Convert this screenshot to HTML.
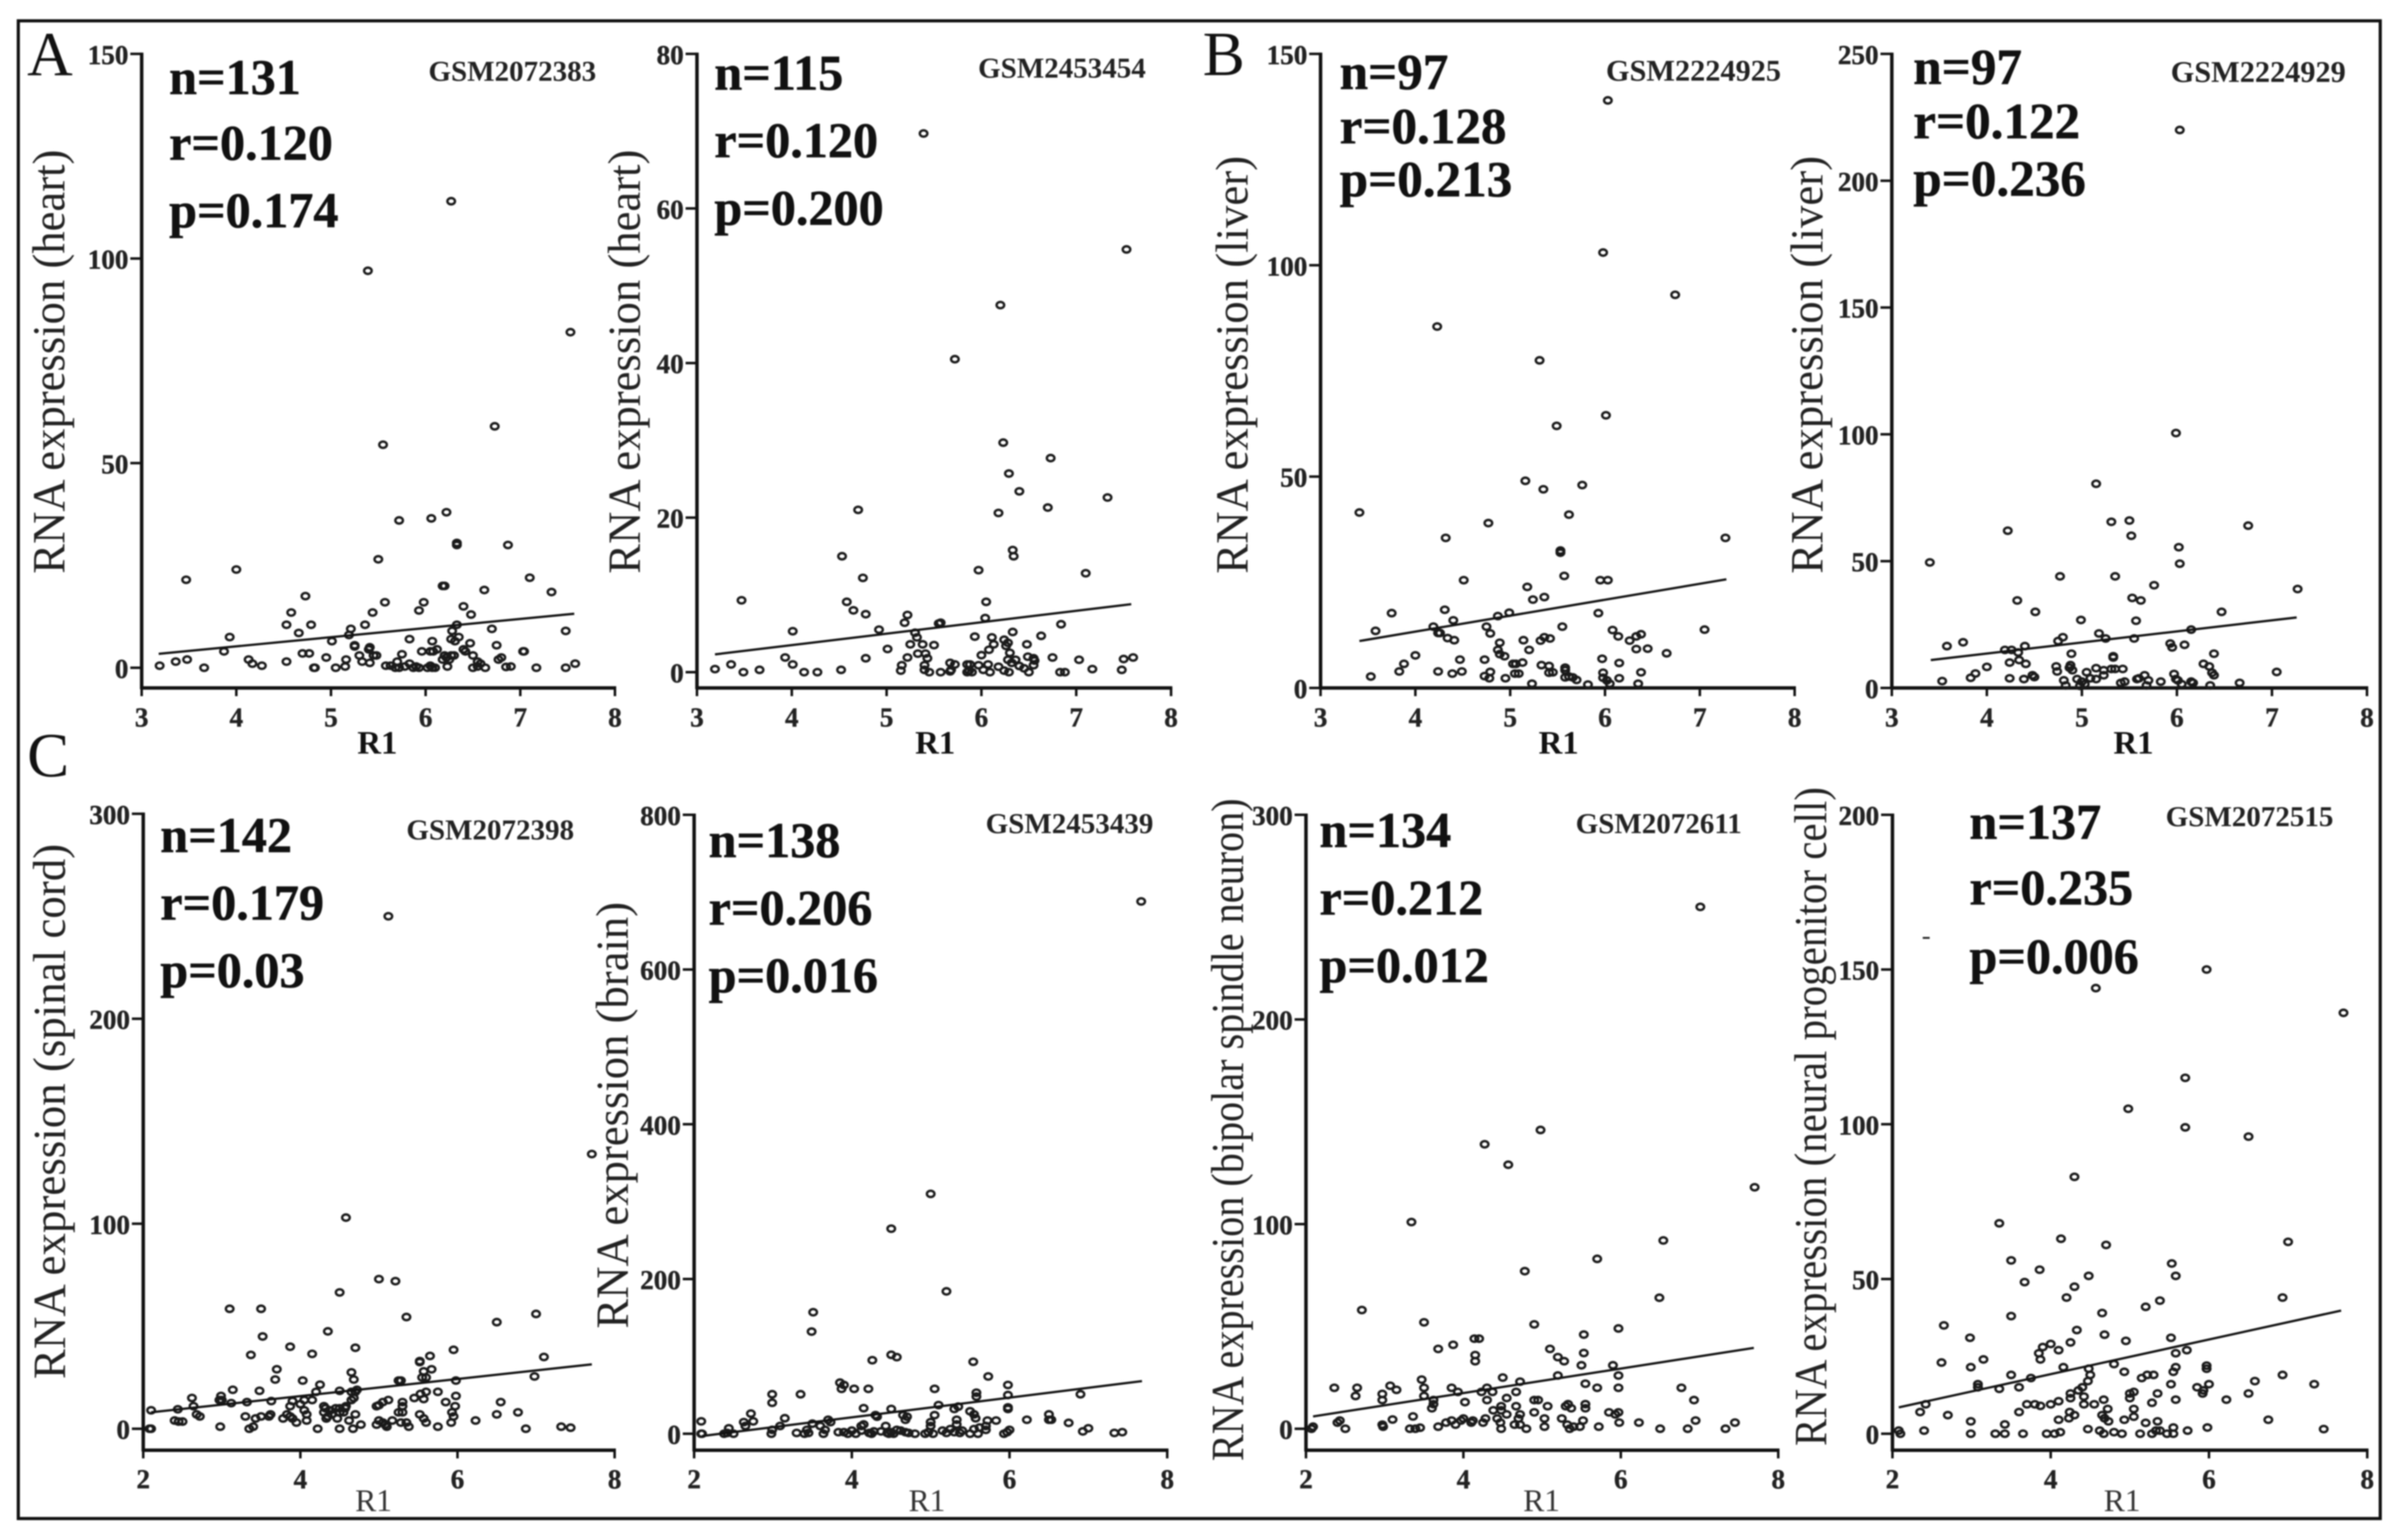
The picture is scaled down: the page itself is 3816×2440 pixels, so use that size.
<!DOCTYPE html>
<html lang="en">
<head>
<meta charset="utf-8">
<title>RNA expression versus R1 scatter panels</title>
<style>
html,body{margin:0;padding:0;background:#fff;width:3816px;height:2440px;overflow:hidden}
svg{display:block;filter:blur(1px)}
text{font-family:"Liberation Serif",serif;fill:#111}
.stat{font-size:79.5px;font-weight:700;stroke:#111;stroke-width:.8px}
.statb{font-size:81px}
.gsm{font-size:46px;font-weight:700;fill:#222}
.gsmb{font-size:48px}
.letter{font-size:100px}
.ytitle{font-size:73px;fill:#222}
.tick{font-size:43px;font-weight:700;fill:#222;stroke:#222;stroke-width:.6px}
.xb{font-size:52px;font-weight:700}
.xr{font-size:50px;fill:#333}
</style>
</head>
<body>
<svg id="figure" width="3816" height="2440" viewBox="0 0 3816 2440" xmlns="http://www.w3.org/2000/svg">
<rect x="29" y="33" width="3743" height="2373" fill="#fff" stroke="#111" stroke-width="5"/>
<text class="letter" x="43" y="119">A</text>
<text class="letter" x="1906" y="119">B</text>
<text class="letter" x="43" y="1230">C</text>

<text class="stat" x="268" y="149">n=131</text>
<text class="stat" x="268" y="253">r=0.120</text>
<text class="stat" x="268" y="360">p=0.174</text>
<text class="gsm" x="679" y="128">GSM2072383</text>
<text class="ytitle" transform="translate(102,909) rotate(-90)" textLength="672" lengthAdjust="spacingAndGlyphs">RNA expression (heart)</text>
<text class="xb" x="598" y="1194" text-anchor="middle">R1</text>

<text class="stat" x="1132" y="142">n=115</text>
<text class="stat" x="1132" y="249">r=0.120</text>
<text class="stat" x="1132" y="356">p=0.200</text>
<text class="gsm" x="1550" y="123">GSM2453454</text>
<text class="ytitle" transform="translate(1014,909) rotate(-90)" textLength="672" lengthAdjust="spacingAndGlyphs">RNA expression (heart)</text>
<text class="xb" x="1482" y="1194" text-anchor="middle">R1</text>

<text class="stat statb" x="2123" y="141">n=97</text>
<text class="stat statb" x="2123" y="227">r=0.128</text>
<text class="stat statb" x="2123" y="311">p=0.213</text>
<text class="gsm gsmb" x="2545" y="128">GSM2224925</text>
<text class="ytitle" transform="translate(1977,909) rotate(-90)" textLength="662" lengthAdjust="spacingAndGlyphs">RNA expression (liver)</text>
<text class="xb" x="2470" y="1194" text-anchor="middle">R1</text>

<text class="stat statb" x="3032" y="133">n=97</text>
<text class="stat statb" x="3032" y="219">r=0.122</text>
<text class="stat statb" x="3032" y="310">p=0.236</text>
<text class="gsm gsmb" x="3440" y="130">GSM2224929</text>
<text class="ytitle" transform="translate(2888,909) rotate(-90)" textLength="662" lengthAdjust="spacingAndGlyphs">RNA expression (liver)</text>
<text class="xb" x="3381" y="1194" text-anchor="middle">R1</text>

<text class="stat" x="254" y="1350">n=142</text>
<text class="stat" x="254" y="1457">r=0.179</text>
<text class="stat" x="254" y="1564">p=0.03</text>
<text class="gsm" x="644" y="1330">GSM2072398</text>
<text class="ytitle" transform="translate(103,2185) rotate(-90)" textLength="848" lengthAdjust="spacingAndGlyphs">RNA expression (spinal cord)</text>
<text class="xr" x="592" y="2394" text-anchor="middle">R1</text>

<text class="stat" x="1123" y="1358">n=138</text>
<text class="stat" x="1123" y="1465">r=0.206</text>
<text class="stat" x="1123" y="1572">p=0.016</text>
<text class="gsm" x="1562" y="1320">GSM2453439</text>
<text class="ytitle" transform="translate(995,2105) rotate(-90)" textLength="676" lengthAdjust="spacingAndGlyphs">RNA expression (brain)</text>
<text class="xr" x="1469" y="2394" text-anchor="middle">R1</text>

<text class="stat" x="2091" y="1342">n=134</text>
<text class="stat" x="2091" y="1449">r=0.212</text>
<text class="stat" x="2091" y="1556">p=0.012</text>
<text class="gsm" x="2497" y="1320">GSM2072611</text>
<text class="ytitle" transform="translate(1970,2315) rotate(-90)" textLength="1050" lengthAdjust="spacingAndGlyphs">RNA expression (bipolar spindle neuron)</text>
<text class="xr" x="2443" y="2394" text-anchor="middle">R1</text>

<text class="stat" x="3121" y="1329">n=137</text>
<text class="stat" x="3121" y="1433">r=0.235</text>
<text class="stat" x="3121" y="1542">p=0.006</text>
<text class="gsm" x="3432" y="1309">GSM2072515</text>
<text class="ytitle" transform="translate(2894,2291) rotate(-90)" textLength="1044" lengthAdjust="spacingAndGlyphs">RNA expression (neural progenitor cell)</text>
<text class="xr" x="3363" y="2394" text-anchor="middle">R1</text>

<line x1="3047" y1="1486" x2="3058" y2="1486" stroke="#222" stroke-width="3"/>
</svg>
<script>
const xTicksUpper = [3,4,5,6,7,8];
const xTicksLower = [2,4,6,8];
const a1YTicks = [0,50,100,150];
const a2YTicks = [0,20,40,60,80];
const b1YTicks = [0,50,100,150];
const b2YTicks = [0,50,100,150,200,250];
const c1YTicks = [0,100,200,300];
const c2YTicks = [0,200,400,600,800];
const c3YTicks = [0,100,200,300];
const c4YTicks = [0,50,100,150,200];

const a1Fit = [[3.18,3.4],[7.57,13.2]];
const a2Fit = [[3.19,2.3],[7.58,8.8]];
const b1Fit = [[3.41,11.1],[7.28,25.7]];
const b2Fit = [[3.41,11],[7.26,27.8]];
const c1Fit = [[2.1,8],[7.71,31.4]];
const c2Fit = [[2.1,-3],[7.68,68]];
const c3Fit = [[2.09,6],[7.69,39.5]];
const c4Fit = [[2.08,8.5],[7.67,39.8]];

const a1Points = [[6.27,114],[5.39,97],[7.53,82],[6.73,59],[5.55,54.5],[5.72,36],[6.06,36.5],[6.22,38],[6.33,30.5],[6.33,30],[6.87,30],[5.5,26.5],[7.1,22],[4.0,24],[3.47,21.5],[6.18,20],[6.2,20],[4.73,17.5],[6.62,19],[7.33,18.5],[5.57,16],[5.98,16],[4.58,13.5],[5.44,13.5],[5.93,14],[6.4,15],[6.48,13],[4.53,10.5],[4.79,10.5],[5.36,10.5],[4.66,8.5],[5.21,9.5],[5.19,8],[3.93,7.5],[5.01,6.5],[5.83,7],[6.28,9],[6.33,10.5],[6.7,9.5],[7.48,9],[6.27,7],[6.35,7.5],[6.31,6.5],[6.07,6.5],[6.47,6],[6.75,5.5],[5.25,5.5],[5.25,5.2],[5.4,4.5],[5.41,5],[6.12,4.5],[6.05,4],[5.96,4],[6.08,4],[7.03,4],[7.04,4],[6.42,4],[6.4,4.5],[3.87,4],[4.7,3.5],[4.77,3.5],[5.3,3],[5.45,3],[5.48,3],[5.75,3.3],[6.5,3],[6.8,2.5],[6.77,2],[6.2,3],[6.27,3],[6.3,3],[6.22,2.5],[6.25,2],[6.18,2],[4.13,2],[4.53,1.5],[4.95,2.5],[5.16,2],[5.33,1.5],[5.41,1.2],[3.19,0.5],[3.36,1.5],[3.48,2],[3.66,0],[4.17,1],[4.27,0.5],[4.82,0],[4.83,0],[5.05,0],[5.15,0.3],[5.58,0.5],[5.63,0.5],[5.68,0],[5.7,1.5],[5.72,0],[5.78,0.3],[5.83,1],[5.87,0],[5.9,0.3],[5.93,0],[6.02,0],[6.05,0.5],[6.07,0],[6.1,0],[6.23,0.3],[6.5,0],[6.55,0.3],[6.58,1],[6.55,1.5],[6.63,0],[6.85,0.2],[6.9,0.3],[7.17,0],[7.48,0],[7.58,1]];

const a2Points = [[5.39,69.7],[7.53,54.7],[5.72,40.5],[6.2,47.5],[6.23,29.7],[6.29,25.7],[6.4,23.4],[6.73,27.7],[6.7,21.3],[7.33,22.6],[6.18,20.6],[4.7,21],[6.33,15.8],[6.34,15],[4.53,15],[4.75,12.2],[5.97,13.2],[7.1,12.8],[3.47,9.3],[4.58,9.1],[6.05,9.1],[4.65,8],[4.78,7.5],[5.22,7.4],[6.04,7],[5.19,6.4],[5.55,6.3],[5.57,6.4],[6.84,6.2],[4.92,5.5],[4.01,5.3],[5.3,5.1],[6.33,5.2],[5.32,4.5],[5.93,4.6],[6.11,4.5],[6.24,4.2],[6.63,4.7],[5.25,3.6],[5.38,3.6],[5.5,3.5],[6.13,3.6],[6.28,3.8],[6.26,3.4],[6.48,3.6],[5.01,3],[5.33,2.4],[5.41,2.4],[6.08,2.9],[6.0,2.2],[6.3,2.5],[3.93,1.9],[4.78,1.8],[5.22,1.9],[5.43,1.8],[6.75,1.9],[7.03,1.6],[7.5,1.7],[7.6,1.9],[6.49,2],[6.55,1.8],[6.56,1.5],[6.28,1.6],[6.36,1.6],[3.36,1],[4.01,1],[5.16,0.9],[5.4,0.9],[5.67,1.2],[5.72,1],[5.85,1],[5.88,1],[5.97,0.9],[6.07,1],[6.18,0.7],[6.32,1.2],[6.4,0.8],[6.45,0.5],[6.55,0.9],[3.19,0.4],[3.49,0],[3.66,0.3],[4.13,0],[4.27,0],[4.52,0.3],[5.15,0.2],[5.4,0.3],[5.45,0],[5.57,0],[5.67,0.1],[5.68,0.3],[5.85,0],[5.87,0.2],[5.9,0],[6.02,0.3],[6.09,0],[6.24,0.2],[6.29,0],[6.5,0],[6.83,0],[6.88,0],[7.17,0.4],[7.48,0.3]];

const b1Points = [[6.03,139],[5.98,103],[6.74,93],[4.23,85.5],[5.31,77.5],[6.01,64.5],[5.49,62],[5.16,49],[5.35,47],[5.76,48],[3.41,41.5],[5.62,41],[4.77,39],[4.32,35.5],[7.27,35.5],[5.53,32.5],[5.53,32],[4.51,25.5],[5.57,26.5],[5.95,25.5],[6.03,25.5],[5.18,23.9],[5.36,21.5],[5.24,20.9],[3.75,17.7],[4.31,18.5],[4.99,17.8],[4.87,17],[5.93,17.7],[4.4,16],[4.19,14.5],[4.75,14.5],[5.55,14.5],[3.58,13.5],[4.24,13],[4.26,13],[4.79,12.9],[6.08,13.7],[6.14,12.2],[6.38,12.7],[6.33,12.2],[7.05,13.8],[4.34,11.8],[4.41,11.3],[5.14,11.3],[5.32,11.2],[5.36,12],[5.42,11.7],[4.89,10.7],[6.26,11.2],[4.87,9],[4.89,8],[4.94,7.5],[5.2,9],[6.33,9.2],[6.45,9.3],[6.65,8.2],[4.0,7.7],[4.47,6.7],[4.73,6.7],[5.13,6],[5.03,5.7],[5.06,5.7],[5.97,6.9],[6.15,5.9],[3.88,5.7],[5.33,5.4],[5.41,5.2],[3.83,3.9],[4.24,3.9],[4.39,3.4],[4.49,3.9],[4.79,3.8],[5.05,3.4],[5.09,3.4],[5.41,3.6],[5.45,3.7],[5.58,4.8],[5.58,4.2],[5.98,3.6],[6.38,3.7],[3.53,2.7],[4.73,2.8],[4.78,2.3],[4.95,2.3],[5.58,2.5],[5.62,2.7],[5.66,2.5],[5.7,1.9],[5.98,2.4],[6.02,1.8],[6.05,1],[6.15,2.3],[5.23,1],[5.82,0.8],[6.35,1]];

const b2Points = [[6.03,220],[5.99,100.5],[5.15,80.5],[5.31,65.5],[5.5,66],[5.52,60],[6.75,64],[4.22,62],[6.02,55.5],[3.4,49.5],[6.03,49],[4.77,44],[5.35,44],[5.76,40.5],[7.27,39],[5.53,35.5],[5.62,34.5],[4.32,34.5],[4.51,30],[6.47,30],[4.99,26.8],[5.57,26.5],[6.15,23],[5.18,21.5],[5.25,19.5],[3.75,18],[4.8,20],[4.75,18.5],[5.55,19.5],[5.93,17.5],[5.95,16],[6.08,17],[3.58,16.5],[4.19,15],[4.26,15],[4.4,16.5],[4.33,14],[4.89,13.5],[5.33,12.5],[5.33,12],[6.39,13.5],[4.34,11],[4.24,10],[4.41,9.5],[6.28,9.5],[6.34,8.5],[4.0,8.3],[4.73,8.5],[4.74,6.5],[4.88,9],[4.87,8],[4.9,7],[5.15,7.8],[5.23,7],[5.31,7.5],[5.35,7.5],[5.43,7.5],[5.05,6.2],[5.23,5],[5.97,5.5],[3.88,5.7],[4.48,5],[4.5,4.3],[5.66,5],[6.37,6],[6.39,5],[7.05,6.3],[3.83,4],[4.24,3.8],[4.39,3.5],[4.81,3],[4.95,3.5],[5.09,3.8],[5.15,3.5],[5.58,3.5],[5.6,3.8],[5.7,3],[5.99,3.5],[6.01,3],[3.53,2.7],[5.0,2.5],[5.03,1.5],[5.41,2],[5.45,2.5],[5.83,2.5],[6.15,2.5],[6.17,2],[6.05,1.5],[6.66,2],[4.83,1],[4.98,0.8],[5.68,1],[6.35,1]];

const c1Points = [[5.12,250],[7.71,134],[4.58,103],[5.0,73],[5.21,72],[4.5,66.5],[3.1,58.5],[3.5,58.5],[7.0,56],[6.5,52],[5.35,54.5],[3.52,45],[4.35,47.5],[3.37,36],[3.87,40],[4.15,36.5],[4.7,39.5],[5.95,38.5],[5.65,35.5],[7.1,35],[5.52,33],[5.52,32.5],[3.7,29],[3.68,24],[4.03,23.5],[4.25,21.5],[4.65,27.5],[4.68,24],[5.67,29],[5.57,28],[5.55,25],[5.6,25],[5.25,23.5],[5.28,23.5],[5.98,23.5],[6.98,25.5],[2.62,15],[2.64,11],[2.1,9],[2.44,9.5],[2.68,7],[2.72,6],[2.99,16],[3.0,14],[2.97,14],[3.14,19],[3.12,12.5],[3.32,13],[3.48,18.5],[3.63,13.5],[3.87,11],[3.9,13.5],[4.0,12],[4.05,14],[4.15,14],[4.2,18],[4.5,18.5],[4.65,18],[4.68,15],[4.72,19],[4.7,18],[4.3,11],[4.32,10],[4.45,10],[4.5,10],[4.57,10],[4.58,11],[4.4,7],[4.35,6],[4.33,5],[4.3,8],[4.5,8],[4.38,9],[4.55,8],[4.47,5],[4.65,14],[4.7,7],[4.62,4],[4.05,9],[4.08,7],[4.08,4],[3.95,3],[3.87,6],[3.83,7],[3.78,5],[3.9,5],[3.62,7],[3.6,6],[3.5,6],[3.43,5],[3.3,6],[3.35,0],[3.4,1],[2.98,1],[2.4,4],[2.45,3.5],[2.5,3.5],[2.08,0],[2.1,0],[4.22,0],[4.5,0],[4.67,0],[4.77,2],[4.97,2],[5.0,4],[5.05,3],[5.08,2],[5.1,1],[5.17,4],[5.28,3],[5.25,8],[5.3,8],[5.3,11],[5.05,13],[4.97,11],[5.0,11.5],[5.12,14],[5.3,13],[5.45,15],[5.57,14.5],[5.53,17],[5.6,18],[5.75,18],[5.85,13],[5.97,11],[5.98,16],[5.93,8],[5.95,6],[5.92,3],[5.52,7],[5.57,5],[5.6,3],[5.35,3],[5.38,1],[5.75,1],[6.23,4],[6.5,7],[6.55,13],[6.77,8],[6.87,0],[7.32,1],[7.44,0.5]];

const c2Points = [[7.67,688],[5.0,310],[4.5,265],[5.2,184],[3.51,157],[3.49,132],[4.5,102],[4.57,99],[4.26,95],[5.54,93],[5.73,74],[3.85,66],[3.9,63],[3.87,58],[4.03,58],[4.21,58],[5.05,58],[5.98,63],[5.98,50],[5.58,53],[5.58,48],[6.9,51],[2.99,51],[2.99,40],[3.35,51],[4.15,33],[4.5,32],[5.1,37],[5.3,32],[5.35,35],[5.5,29],[5.98,34],[5.98,32],[2.09,16],[2.72,26],[2.75,16],[2.63,15],[2.65,10],[3.15,20],[3.09,10],[3.5,13],[3.7,18],[3.73,15],[3.6,10],[4.3,24],[4.32,22],[4.15,12],[4.12,10],[4.65,24],[4.7,22],[4.68,18],[5.0,15],[5.05,24],[5.55,25],[5.57,20],[5.72,17],[5.83,17],[5.7,10],[5.33,18],[5.33,12],[6.22,18],[6.5,25],[6.5,18],[6.53,18],[6.75,14],[6.93,3],[7.0,7],[7.33,1],[7.43,2],[2.09,0],[2.1,0],[2.38,0],[2.42,1],[2.44,7],[2.5,0],[2.98,0],[2.99,5],[3.3,1],[3.4,0],[3.43,5],[3.45,1],[3.64,0],[3.66,5],[3.83,2],[3.9,2],[3.95,0],[4.0,4],[4.05,0],[4.12,4],[4.22,1],[4.25,0],[4.28,3],[4.37,3],[4.43,10],[4.45,1],[4.47,0],[4.5,2],[4.53,0],[4.57,5],[4.62,4],[4.68,2],[4.72,1],[4.8,0],[4.93,0],[4.97,2],[5.0,10],[5.03,0],[5.15,4],[5.2,1],[5.25,6],[5.3,2],[5.37,1],[5.4,4],[5.5,0],[5.55,6],[5.6,0],[5.62,8],[5.7,5],[5.93,0],[5.97,2],[6.0,5]];

const c3Points = [[7.01,255],[4.98,146],[4.27,139],[4.57,129],[7.7,118],[3.34,101],[6.54,92],[5.7,83],[4.78,77],[6.49,64],[2.71,58],[3.5,52],[4.9,51],[5.97,49],[5.53,46],[4.14,44],[4.2,44],[3.87,41],[3.68,39],[5.1,39],[5.53,37],[4.15,36],[5.2,35],[4.15,33],[5.28,33],[5.5,31],[5.9,31],[5.97,26],[5.2,26],[4.5,25],[4.72,23],[5.55,22],[3.47,24],[3.5,20],[3.07,21],[3.15,19],[2.36,20],[2.65,20],[2.63,16],[2.97,17],[2.97,14],[3.5,16],[3.62,14],[3.62,12],[3.6,10],[3.85,20],[3.93,18],[4.02,13],[4.23,18],[4.3,20],[4.37,18],[4.3,14],[4.55,15],[4.67,18],[4.67,11],[4.9,14],[4.95,14],[5.07,11],[5.33,12],[5.3,11],[5.37,10],[5.55,12],[5.55,10],[5.7,20],[5.97,20],[6.77,20],[6.93,14],[4.48,11],[4.48,9],[4.38,9],[4.55,7],[4.72,7],[4.9,8],[5.85,8],[5.93,7],[5.97,8],[3.1,4.5],[2.4,3],[2.43,4],[2.5,0],[2.09,1],[2.07,0],[2.97,2],[2.98,1],[3.32,0],[3.39,0],[3.45,0.5],[3.36,6],[3.68,1],[3.78,3],[3.85,4],[3.9,2],[3.97,4],[4.0,5],[4.1,3],[4.12,4],[4.25,3],[4.28,5],[4.43,5],[4.47,3],[4.48,0],[4.65,2],[4.7,5],[4.72,2],[4.8,0],[5.03,5],[5.03,1],[5.25,5],[5.32,2],[5.35,0],[5.4,1],[5.48,1],[5.52,4],[5.72,1],[5.98,3],[6.23,3],[6.5,0],[6.85,0],[6.95,4],[7.33,0],[7.45,3]];

const c4Points = [[5.97,150],[4.57,144],[7.7,136],[5.7,115],[4.98,105],[5.7,99],[6.5,96],[4.3,83],[3.35,68],[4.13,63],[7.0,62],[4.7,61],[3.5,56],[5.53,55],[5.58,51],[3.86,53],[4.48,51],[3.67,49],[4.3,47.5],[4.2,44],[6.93,44],[5.38,43],[5.2,41],[3.5,38],[4.65,39],[4.33,33.5],[4.68,32],[2.65,35],[2.98,31],[3.9,28],[3.85,26],[3.87,24],[4.0,29],[4.1,27],[4.25,29.5],[4.95,30],[5.52,31],[5.58,26],[5.72,27],[3.15,24],[2.62,23],[2.99,21.5],[4.16,21.5],[4.48,21],[4.8,22.5],[4.93,20],[5.55,20],[5.58,21.5],[5.97,22],[5.97,21],[3.5,19],[3.75,18],[4.5,19],[4.47,17],[5.15,18],[5.22,19],[5.3,19],[6.93,19],[6.58,17],[3.08,16],[3.08,15],[3.35,14.5],[3.6,15],[4.4,15],[4.35,14],[4.25,13],[5.0,13],[5.05,13.5],[5.35,13],[5.52,16],[5.85,15],[5.93,14],[5.92,13],[6.0,16],[7.33,16],[6.5,13],[6.22,11],[2.35,7],[2.42,9.5],[2.7,6],[3.6,7],[3.42,3],[3.7,9.5],[3.8,9.5],[3.87,9],[4.0,9.5],[4.1,10.5],[4.25,11.5],[4.24,7],[4.3,6],[4.23,5],[4.1,4.5],[4.42,9.5],[4.42,12],[4.55,9.5],[4.67,11],[4.72,8],[4.65,6],[4.68,5],[4.73,4],[4.93,4.5],[5.05,8],[5.05,5.5],[5.0,11.5],[5.28,10],[5.58,11],[5.2,3.5],[5.35,4],[2.08,1],[2.1,0],[2.4,1],[2.99,4],[2.99,0],[3.3,0],[3.42,0],[3.65,0],[3.95,0],[4.05,0],[4.12,0.5],[4.47,1.5],[4.62,1],[4.67,0],[4.8,0.5],[4.9,0],[5.13,0],[5.28,0],[5.33,1],[5.38,1],[5.47,0],[5.55,0],[5.55,2],[5.73,1],[5.98,2],[6.75,4.5],[7.45,1.5]];

const NS = 'http://www.w3.org/2000/svg';
const figure = document.getElementById('figure');

function make(tag, attrs, parent) {
  const el = document.createElementNS(NS, tag);
  Object.keys(attrs).forEach(function (k) { el.setAttribute(k, attrs[k]); });
  parent.appendChild(el);
  return el;
}

function drawPanel(id, box, xTicks, yTicks, points, fit) {
  const xMin = xTicks[0], xMax = xTicks[xTicks.length - 1];
  const yMax = yTicks[yTicks.length - 1];
  const sx = function (v) { return box.left + (v - xMin) * (box.right - box.left) / (xMax - xMin); };
  const sy = function (v) { return box.zero + v * (box.top - box.zero) / yMax; };

  const g = make('g', {}, figure);
  
  

  const yAxis = make('line', {x1: box.left, x2: box.left, y1: box.top - 2, y2: box.axis + 2, stroke: '#111', 'stroke-width': 5.5}, g);
  
  

  const xAxis = make('line', {x1: box.left - 2, x2: box.right + 2, y1: box.axis, y2: box.axis, stroke: '#111', 'stroke-width': 5.5}, g);
  
  

  yTicks.forEach(function (t) {
    const mark = make('line', {x1: box.left - 18, x2: box.left, y1: sy(t), y2: sy(t), stroke: '#111', 'stroke-width': 4}, g);
    
    
    const label = make('text', {class: 'tick', x: box.left - 21, y: sy(t) + 16, 'text-anchor': 'end'}, g);
    label.textContent = String(t);
    
    
  });

  xTicks.forEach(function (t) {
    const mark = make('line', {x1: sx(t), x2: sx(t), y1: box.axis, y2: box.axis + 13, stroke: '#111', 'stroke-width': 4}, g);
    
    
    const label = make('text', {class: 'tick', x: sx(t), y: box.xLabel, 'text-anchor': 'middle'}, g);
    label.textContent = String(t);
    
    
  });

  points.forEach(function (p) {
    const dot = make('ellipse', {cx: sx(p[0]), cy: sy(p[1]), rx: 6, ry: 5, fill: 'none', stroke: '#1a1a1a', 'stroke-width': 3.8}, g);
    
    
  });

  const trend = make('line', {x1: sx(fit[0][0]), y1: sy(fit[0][1]), x2: sx(fit[1][0]), y2: sy(fit[1][1]), stroke: '#111', 'stroke-width': 3.6}, g);
  
  
}

drawPanel('a1', {left: 224.5, right: 974.5, top: 85.4, zero: 1058, axis: 1090, xLabel: 1151}, xTicksUpper, a1YTicks, a1Points, a1Fit);
drawPanel('a2', {left: 1104.5, right: 1855.8, top: 85.4, zero: 1065, axis: 1090, xLabel: 1151}, xTicksUpper, a2YTicks, a2Points, a2Fit);
drawPanel('b1', {left: 2092.7, right: 2844, top: 85.4, zero: 1090, axis: 1090, xLabel: 1151}, xTicksUpper, b1YTicks, b1Points, b1Fit);
drawPanel('b2', {left: 2998, right: 3751, top: 85.4, zero: 1090, axis: 1090, xLabel: 1151}, xTicksUpper, b2YTicks, b2Points, b2Fit);
drawPanel('c1', {left: 227, right: 974, top: 1289.4, zero: 2263.7, axis: 2297.7, xLabel: 2358}, xTicksLower, c1YTicks, c1Points, c1Fit);
drawPanel('c2', {left: 1100, right: 1849.7, top: 1291, zero: 2271.6, axis: 2297.7, xLabel: 2358}, xTicksLower, c2YTicks, c2Points, c2Fit);
drawPanel('c3', {left: 2069.6, right: 2818, top: 1291, zero: 2263.7, axis: 2297.7, xLabel: 2358}, xTicksLower, c3YTicks, c3Points, c3Fit);
drawPanel('c4', {left: 2999, right: 3751.4, top: 1291, zero: 2271.6, axis: 2297.7, xLabel: 2358}, xTicksLower, c4YTicks, c4Points, c4Fit);
</script>
</body>
</html>
